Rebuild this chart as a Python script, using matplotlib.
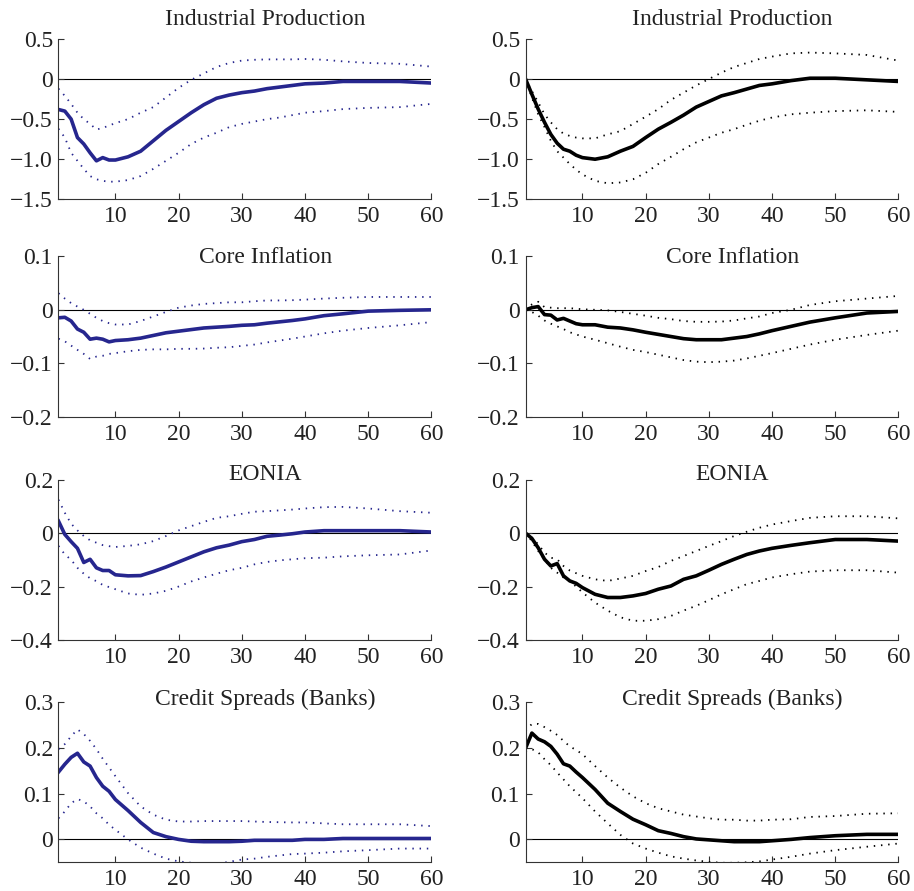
import matplotlib
matplotlib.use("Agg")
import matplotlib.pyplot as plt
import numpy

# horizon grid (months) at which the responses were read
horizon = [1, 2, 3, 4, 5, 6, 7, 8, 9, 10, 12, 14, 16, 18, 20, 22, 24, 26, 28, 30,
           32, 34, 36, 38, 40, 43, 46, 50, 55, 60]

titles = ["Industrial Production", "Core Inflation", "EONIA", "Credit Spreads (Banks)"]

# Industrial production
ip_l_mid = [-0.38, -0.40, -0.50, -0.73, -0.81, -0.92, -1.02, -0.98, -1.01, -1.01, -0.97, -0.90, -0.77, -0.64, -0.53,
            -0.42, -0.32, -0.24, -0.20, -0.17, -0.15, -0.12, -0.10, -0.08, -0.06, -0.05, -0.03, -0.03, -0.03, -0.05]
ip_l_up = [-0.12, -0.21, -0.31, -0.42, -0.50, -0.56, -0.63, -0.61, -0.58, -0.55, -0.50, -0.42, -0.35, -0.23, -0.11,
           -0.01, 0.07, 0.15, 0.20, 0.23, 0.24, 0.245, 0.245, 0.245, 0.25, 0.24, 0.22, 0.20, 0.19, 0.155]
ip_l_lo = [-0.62, -0.73, -0.92, -1.02, -1.12, -1.21, -1.25, -1.27, -1.28, -1.28, -1.26, -1.21, -1.12, -1.02, -0.92,
           -0.81, -0.73, -0.67, -0.60, -0.56, -0.53, -0.50, -0.48, -0.45, -0.42, -0.40, -0.375, -0.36, -0.35, -0.31]
ip_r_mid = [0.0, -0.19, -0.375, -0.54, -0.69, -0.80, -0.875, -0.90, -0.95, -0.98, -1.0, -0.97, -0.90, -0.84, -0.73,
            -0.625, -0.54, -0.45, -0.35, -0.28, -0.21, -0.17, -0.125, -0.08, -0.06, -0.02, 0.01, 0.01, -0.01, -0.03]
ip_r_up = [0.0, -0.15, -0.29, -0.44, -0.54, -0.625, -0.68, -0.71, -0.73, -0.74, -0.74, -0.69, -0.65, -0.56, -0.47,
           -0.375, -0.26, -0.17, -0.08, 0.0, 0.08, 0.15, 0.20, 0.25, 0.28, 0.32, 0.33, 0.32, 0.30, 0.23]
ip_r_lo = [0.0, -0.23, -0.44, -0.60, -0.77, -0.90, -0.98, -1.06, -1.13, -1.19, -1.27, -1.30, -1.29, -1.25, -1.17,
           -1.06, -0.97, -0.875, -0.79, -0.73, -0.67, -0.625, -0.57, -0.52, -0.48, -0.44, -0.42, -0.40, -0.39, -0.41]

# Core inflation
ci_l_mid = [-0.015, -0.014, -0.021, -0.036, -0.042, -0.055, -0.053, -0.055, -0.060, -0.0575, -0.056, -0.053, -0.048,
            -0.043, -0.040, -0.037, -0.034, -0.0325, -0.031, -0.029, -0.028, -0.025, -0.0225, -0.020, -0.017, -0.011,
            -0.0075, -0.0025, -0.001, 0.0]
ci_l_up = [0.031, 0.021, 0.0125, 0.006, 0.0, -0.0075, -0.015, -0.021, -0.025, -0.0275, -0.0275, -0.021, -0.0125,
           -0.004, 0.004, 0.008, 0.011, 0.0125, 0.014, 0.014, 0.016, 0.0175, 0.0175, 0.018, 0.019, 0.021, 0.0225,
           0.024, 0.024, 0.024]
ci_l_lo = [-0.054, -0.059, -0.067, -0.075, -0.0825, -0.092, -0.0875, -0.086, -0.0825, -0.081, -0.0775, -0.075,
           -0.074, -0.074, -0.073, -0.073, -0.0725, -0.071, -0.070, -0.0675, -0.065, -0.061, -0.0575, -0.054, -0.050,
           -0.044, -0.039, -0.034, -0.029, -0.023]
ci_r_mid = [0.0, 0.004, 0.006, -0.009, -0.010, -0.019, -0.016, -0.021, -0.026, -0.028, -0.028, -0.0325, -0.034,
            -0.0375, -0.042, -0.046, -0.050, -0.054, -0.056, -0.056, -0.056, -0.053, -0.050, -0.045, -0.039, -0.031,
            -0.023, -0.015, -0.006, -0.003]
ci_r_up = [0.0, 0.010, 0.015, 0.005, 0.004, 0.003, 0.003, 0.003, 0.002, 0.001, 0.0, -0.001, -0.004, -0.0075,
           -0.011, -0.015, -0.0175, -0.021, -0.0225, -0.0225, -0.022, -0.020, -0.016, -0.0125, -0.006, 0.0, 0.009,
           0.016, 0.021, 0.026]
ci_r_lo = [0.0, -0.004, -0.011, -0.020, -0.026, -0.031, -0.036, -0.042, -0.046, -0.050, -0.056, -0.0625, -0.069,
           -0.075, -0.079, -0.084, -0.089, -0.094, -0.097, -0.098, -0.097, -0.095, -0.091, -0.086, -0.081, -0.073,
           -0.065, -0.056, -0.047, -0.039]

# EONIA
eo_l_mid = [0.045, -0.005, -0.032, -0.057, -0.11, -0.098, -0.13, -0.14, -0.14, -0.156, -0.16, -0.159, -0.144, -0.127,
            -0.108, -0.089, -0.07, -0.055, -0.045, -0.032, -0.024, -0.012, -0.0075, -0.0025, 0.004, 0.009, 0.009,
            0.009, 0.009, 0.004]
eo_l_up = [0.125, 0.076, 0.035, 0.01, -0.011, -0.027, -0.036, -0.045, -0.049, -0.052, -0.048, -0.042, -0.03, -0.011,
           0.01, 0.026, 0.042, 0.057, 0.063, 0.072, 0.08, 0.082, 0.085, 0.088, 0.092, 0.097, 0.098, 0.092, 0.082, 0.076]
eo_l_lo = [-0.048, -0.08, -0.10, -0.13, -0.152, -0.169, -0.18, -0.194, -0.202, -0.21, -0.226, -0.231, -0.226, -0.216,
           -0.20, -0.181, -0.166, -0.152, -0.139, -0.13, -0.117, -0.108, -0.102, -0.098, -0.094, -0.092, -0.087,
           -0.083, -0.08, -0.065]
eo_r_mid = [0.0, -0.02, -0.055, -0.098, -0.123, -0.114, -0.16, -0.179, -0.188, -0.204, -0.229, -0.241, -0.241, -0.235,
            -0.226, -0.21, -0.198, -0.173, -0.16, -0.139, -0.117, -0.098, -0.08, -0.067, -0.057, -0.046, -0.036,
            -0.024, -0.024, -0.03]
eo_r_up = [0.0, -0.017, -0.042, -0.073, -0.092, -0.098, -0.123, -0.14, -0.15, -0.16, -0.173, -0.179, -0.17, -0.16,
           -0.142, -0.127, -0.104, -0.086, -0.067, -0.048, -0.03, -0.011, 0.005, 0.02, 0.032, 0.045, 0.057, 0.063,
           0.063, 0.055]
eo_r_lo = [0.0, -0.03, -0.067, -0.098, -0.13, -0.148, -0.166, -0.18, -0.20, -0.222, -0.26, -0.29, -0.315, -0.328,
           -0.328, -0.322, -0.31, -0.29, -0.272, -0.251, -0.229, -0.21, -0.191, -0.179, -0.166, -0.154, -0.144,
           -0.139, -0.139, -0.148]

# Credit spreads (banks)
cs_l_mid = [0.147, 0.164, 0.179, 0.188, 0.169, 0.16, 0.135, 0.116, 0.105, 0.087, 0.063, 0.037, 0.015, 0.006, 0.0,
            -0.004, -0.005, -0.005, -0.005, -0.004, -0.002, -0.002, -0.002, -0.002, 0.0, 0.0, 0.002, 0.002, 0.002,
            0.002]
cs_l_up = [0.197, 0.208, 0.225, 0.24, 0.23, 0.215, 0.197, 0.176, 0.157, 0.138, 0.101, 0.072, 0.054, 0.043, 0.039,
           0.039, 0.04, 0.04, 0.04, 0.04, 0.039, 0.038, 0.0375, 0.037, 0.037, 0.035, 0.033, 0.033, 0.033, 0.029]
cs_l_lo = [0.046, 0.061, 0.079, 0.088, 0.083, 0.072, 0.057, 0.046, 0.032, 0.021, 0.0, -0.018, -0.031, -0.042, -0.048,
           -0.051, -0.053, -0.053, -0.049, -0.044, -0.042, -0.038, -0.035, -0.032, -0.031, -0.029, -0.026, -0.0235,
           -0.02, -0.02]
cs_r_mid = [0.199, 0.232, 0.219, 0.213, 0.203, 0.186, 0.165, 0.16, 0.147, 0.135, 0.109, 0.079, 0.061, 0.044, 0.032,
            0.019, 0.013, 0.006, 0.001, -0.001, -0.003, -0.005, -0.005, -0.005, -0.003, 0.0, 0.004, 0.008, 0.011,
            0.011]
cs_r_up = [0.237, 0.252, 0.252, 0.245, 0.237, 0.228, 0.215, 0.203, 0.195, 0.186, 0.16, 0.135, 0.113, 0.094, 0.079,
           0.068, 0.061, 0.054, 0.05, 0.046, 0.043, 0.043, 0.041, 0.041, 0.043, 0.044, 0.049, 0.051, 0.056, 0.057]
cs_r_lo = [0.193, 0.197, 0.19, 0.175, 0.162, 0.146, 0.131, 0.116, 0.103, 0.09, 0.061, 0.035, 0.01, -0.009, -0.02,
           -0.029, -0.037, -0.042, -0.046, -0.049, -0.051, -0.051, -0.05, -0.048, -0.044, -0.038, -0.031, -0.0235,
           -0.016, -0.009]

# y axis settings per row
ylims = [(-1.5, 0.5), (-0.2, 0.1), (-0.4, 0.2), (-0.05, 0.3)]
yticks = [[-1.5, -1.0, -0.5, 0, 0.5], [-0.2, -0.1, 0, 0.1], [-0.4, -0.2, 0, 0.2], [0, 0.1, 0.2, 0.3]]
yticklabels = [[u"\u22121.5", u"\u22121.0", u"\u22120.5", "0", "0.5"],
               [u"\u22120.2", u"\u22120.1", "0", "0.1"],
               [u"\u22120.4", u"\u22120.2", "0", "0.2"],
               ["0", "0.1", "0.2", "0.3"]]
title_y = [1.12, 0.99, 1.03, 1.016]

left_data = [(ip_l_mid, ip_l_up, ip_l_lo), (ci_l_mid, ci_l_up, ci_l_lo),
             (eo_l_mid, eo_l_up, eo_l_lo), (cs_l_mid, cs_l_up, cs_l_lo)]
right_data = [(ip_r_mid, ip_r_up, ip_r_lo), (ci_r_mid, ci_r_up, ci_r_lo),
              (eo_r_mid, eo_r_up, eo_r_lo), (cs_r_mid, cs_r_up, cs_r_lo)]

plt.rcParams['font.family'] = ['Liberation Serif', 'DejaVu Serif']

fig = plt.figure(figsize=(9.14, 8.91), dpi=100)

blue = '#26268e'
row_bottoms = [0.7763, 0.5323, 0.2817, 0.0322]
col_lefts = [0.064, 0.575]

for row in range(4):
    for col, (data, color) in enumerate([(left_data, blue), (right_data, 'black')]):
        ax = fig.add_axes([col_lefts[col], row_bottoms[row], 0.408, 0.1800])
        mid, up, lo = data[row]
        ax.axhline(0, color='black', linewidth=0.8, zorder=1)
        ax.plot(horizon, up, color=color, linewidth=1.3, linestyle=(0, (0.8, 3.2)))
        ax.plot(horizon, lo, color=color, linewidth=1.3, linestyle=(0, (0.8, 3.2)))
        ax.plot(horizon, mid, color=color, linewidth=2.6, solid_joinstyle='round')
        ax.set_xlim(1, 60)
        ax.set_ylim(*ylims[row])
        ax.set_xticks([10, 20, 30, 40, 50, 60])
        ax.set_yticks(yticks[row])
        ax.set_yticklabels(yticklabels[row])
        ax.spines['top'].set_visible(False)
        ax.spines['right'].set_visible(False)
        for s in ['left', 'bottom']:
            ax.spines[s].set_linewidth(0.8)
            ax.spines[s].set_color('#333333')
        ax.tick_params(direction='in', length=4, width=0.8, labelsize=17,
                       colors='#333333', labelcolor='#222222')
        ax.tick_params(axis='y', pad=4)
        ax.tick_params(axis='x', pad=5)
        ax.text(0.555, title_y[row], titles[row], transform=ax.transAxes,
                ha='center', va='center', fontsize=17, color='#222222')

fig.savefig('out.png', dpi=100)
